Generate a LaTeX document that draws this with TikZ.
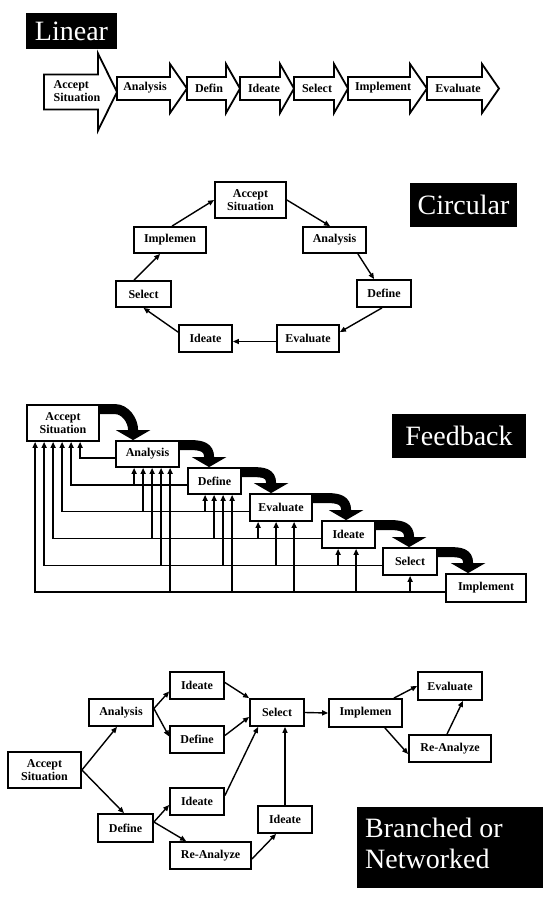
\documentclass[tikz,border=0pt]{standalone}
\usepackage{fontspec}
\setmainfont{Liberation Serif}
\usetikzlibrary{arrows.meta,calc}
\newcommand\fbcurve[3]{%
  \coordinate (S) at ($(#1.north east)+(0,5)$);
  \coordinate (E) at ($(#2.north west)+(#3,0)$);
  \draw[bigarr] (S) -- ($(S -| E)+(-18,0)$) .. controls ($(S -| E)+(-8,0)$) and ($(E)+(0,-20)$) .. ($(E)+(0,-10)$) -- (E);
}
\newcommand\fbbranch[3]{%
  \coordinate (tt) at ($(#1.south west)+(#2,0)$);
  \draw[conn] (tt |- #3) -- (tt);
}
\begin{document}
\begin{tikzpicture}[x=1pt,y=-1pt,
  box/.style={draw, line width=1.8pt, fill=white, inner sep=0pt, align=center, font=\bfseries\fontsize{12}{13}\selectfont},
  ttl/.style={fill=black, text=white, inner sep=0pt, font=\fontsize{28}{31}\selectfont},
  lab/.style={inner sep=0pt, align=left, font=\bfseries\fontsize{12}{13}\selectfont},
  larr/.style={draw, line width=1.8pt, fill=white, line join=miter},
  conn/.style={line width=1.4pt, -{Triangle[length=6pt,width=5pt]}},
  bigarr/.style={line width=10pt, -{Triangle[length=10pt,width=34pt]}},
]
\useasboundingbox (0,0) rectangle (550,900);
\fill[white] (0,0) rectangle (550,900);

% ---------------- Linear ----------------
\node[ttl, minimum width=91pt, minimum height=36pt] (tlin) at (71.5,31) {Linear};
\draw[larr] (44,74.5) -- (98,74.5) -- (98,53.5) -- (117,92) -- (98,130.5) -- (98,109.5) -- (44,109.5) -- cycle;
\foreach \L/\H/\T in {117/170/187, 187/226/240, 240/280/294, 294/334/348, 348/410/427, 427/482/499}
  \draw[larr] (\L,77) -- (\H,77) -- (\H,64) -- (\T,88.5) -- (\H,113) -- (\H,100) -- (\L,100) -- cycle;
\node[lab] (l1) at (77,91) {Accept\\Situation};
\node[lab] (l2) at (145,88) {Analysis};
\node[lab] (l3) at (209,88) {Defin};
\node[lab] (l4) at (264,88) {Ideate};
\node[lab] (l5) at (317,88) {Select};
\node[lab] (l6) at (383,88) {Implement};
\node[lab] (l7) at (458,88) {Evaluate};

% ---------------- Circular ----------------
\node[ttl, minimum width=107pt, minimum height=44pt] (tcir) at (463.5,205) {Circular};
\node[box, minimum width=71pt, minimum height=36pt] (cac) at (250.5,200) {Accept\\Situation};
\node[box, minimum width=63pt, minimum height=26pt] (can) at (334.5,240) {Analysis};
\node[box, minimum width=54pt, minimum height=27pt] (cde) at (384,293.5) {Define};
\node[box, minimum width=62pt, minimum height=27pt] (cev) at (308,338.5) {Evaluate};
\node[box, minimum width=53pt, minimum height=27pt] (cid) at (205.5,338.5) {Ideate};
\node[box, minimum width=55pt, minimum height=26pt] (cse) at (143.5,294) {Select};
\node[box, minimum width=72pt, minimum height=26pt] (cim) at (170,240) {Implemen};
\draw[conn] (cac.east) -- ([xshift=-4.5pt]can.north);
\draw[conn] ([xshift=-9pt]can.south east) -- ([xshift=18pt]cde.north west);
\draw[conn] ([xshift=-2pt]cde.south) -- ([yshift=-8pt]cev.north east);
\draw[conn] ([yshift=-3pt]cev.west) -- ([yshift=-3pt]cid.east);
\draw[conn] ([yshift=-8pt]cid.north west) -- (cse.south);
\draw[conn] ([xshift=19pt]cse.north west) -- ([xshift=27pt]cim.south west);
\draw[conn] ([xshift=2pt]cim.north) -- (cac.west);

% ---------------- Feedback ----------------
\node[ttl, minimum width=134pt, minimum height=44pt] (tfb) at (459,436) {Feedback};
\node[box, minimum width=72pt, minimum height=36pt] (fac) at (63,423) {Accept\\Situation};
\node[box, minimum width=63pt, minimum height=26pt] (fan) at (147.5,454) {Analysis};
\node[box, minimum width=53pt, minimum height=26pt] (fde) at (214.5,481) {Define};
\node[box, minimum width=62pt, minimum height=27pt] (fev) at (281,507.5) {Evaluate};
\node[box, minimum width=53pt, minimum height=27pt] (fid) at (348.5,534.5) {Ideate};
\node[box, minimum width=54pt, minimum height=27pt] (fse) at (410,561.5) {Select};
\node[box, minimum width=80pt, minimum height=28pt] (fim) at (486,588) {Implement};
\coordinate (h1) at ($(fan.west)+(0,4)$);
\coordinate (h2) at ($(fde.west)+(0,4)$);
\coordinate (h3) at ($(fev.west)+(0,4)$);
\coordinate (h4) at ($(fid.west)+(0,4)$);
\coordinate (h5) at ($(fse.west)+(0,4)$);
\coordinate (h6) at ($(fim.west)+(0,4)$);
\draw[conn] (h1) -| ($(fac.south west)+(54,0)$);
\draw[conn] (h2) -| ($(fac.south west)+(45,0)$);
\draw[conn] (h3) -| ($(fac.south west)+(36,0)$);
\draw[conn] (h4) -| ($(fac.south west)+(27,0)$);
\draw[conn] (h5) -| ($(fac.south west)+(18,0)$);
\draw[conn] (h6) -| ($(fac.south west)+(9,0)$);
\fbbranch{fan}{19}{h2}
\fbbranch{fan}{28}{h3}
\fbbranch{fan}{37}{h4}
\fbbranch{fan}{46}{h5}
\fbbranch{fan}{55}{h6}
\fbbranch{fde}{18}{h3}
\fbbranch{fde}{27}{h4}
\fbbranch{fde}{36}{h5}
\fbbranch{fde}{45}{h6}
\fbbranch{fev}{9}{h4}
\fbbranch{fev}{27}{h5}
\fbbranch{fev}{45}{h6}
\fbbranch{fid}{17}{h5}
\fbbranch{fid}{35}{h6}
\fbbranch{fse}{28}{h6}
\fbcurve{fac}{fan}{18}
\fbcurve{fan}{fde}{22}
\fbcurve{fde}{fev}{22}
\fbcurve{fev}{fid}{25}
\fbcurve{fid}{fse}{27}
\fbcurve{fse}{fim}{23}

% ---------------- Branched ----------------
\fill[black] (357,807) rectangle (543,888);
\node[inner sep=0pt, text=white, align=left, anchor=north west, font=\fontsize{28}{31}\selectfont] (tbr) at (365,818) {Branched or\\Networked};
\node[box, minimum width=73pt, minimum height=36pt] (bac) at (44.5,770) {Accept\\Situation};
\node[box, minimum width=64pt, minimum height=27pt] (ban) at (121,712.5) {Analysis};
\node[box, minimum width=54pt, minimum height=27pt] (bi1) at (197,685.5) {Ideate};
\node[box, minimum width=54pt, minimum height=27pt] (bd1) at (197,739.5) {Define};
\node[box, minimum width=54pt, minimum height=27pt] (bse) at (277,712.5) {Select};
\node[box, minimum width=54pt, minimum height=27pt] (bi2) at (197,801.5) {Ideate};
\node[box, minimum width=55pt, minimum height=28pt] (bd2) at (125.5,828) {Define};
\node[box, minimum width=81pt, minimum height=27pt] (bra1) at (210.5,855.5) {Re-Analyze};
\node[box, minimum width=54pt, minimum height=27pt] (bi3) at (285,819.5) {Ideate};
\node[box, minimum width=73pt, minimum height=28pt] (bim) at (365.5,713) {Implemen};
\node[box, minimum width=64pt, minimum height=28pt] (bev) at (450,686) {Evaluate};
\node[box, minimum width=82pt, minimum height=27pt] (bra2) at (450,748.5) {Re-Analyze};
\draw[conn] (bac.east) -- ([xshift=-4pt]ban.south);
\draw[conn] (bac.east) -- ([xshift=-1.5pt]bd2.north);
\draw[conn] ([yshift=4pt]ban.east) -- ([yshift=-6pt]bi1.west);
\draw[conn] ([yshift=4pt]ban.east) -- ([yshift=3pt]bd1.west);
\draw[conn] ([yshift=3pt]bi1.east) -- (bse.north west);
\draw[conn] ([yshift=4pt]bd1.east) -- ([yshift=-4.5pt]bse.west);
\draw[conn] ([yshift=6pt]bi2.east) -- ([xshift=9pt]bse.south west);
\draw[conn] (bi3.north) -- (bi3.north |- bse.south);
\draw[conn] ([yshift=6pt]bd2.east) -- ([yshift=-3.5pt]bi2.west);
\draw[conn] ([yshift=6pt]bd2.east) -- ([xshift=17pt]bra1.north west);
\draw[conn] ([yshift=-3.5pt]bra1.east) -- ([xshift=19pt]bi3.south west);
\draw[conn] (bse.east) -- (bim.west);
\draw[conn] ([xshift=-9pt]bim.north east) -- (bev.west);
\draw[conn] ([xshift=-18pt]bim.south east) -- ([yshift=-5.5pt]bra2.west);
\draw[conn] ([xshift=-3pt]bra2.north) -- ([xshift=13pt]bev.south);
\end{tikzpicture}
\end{document}
